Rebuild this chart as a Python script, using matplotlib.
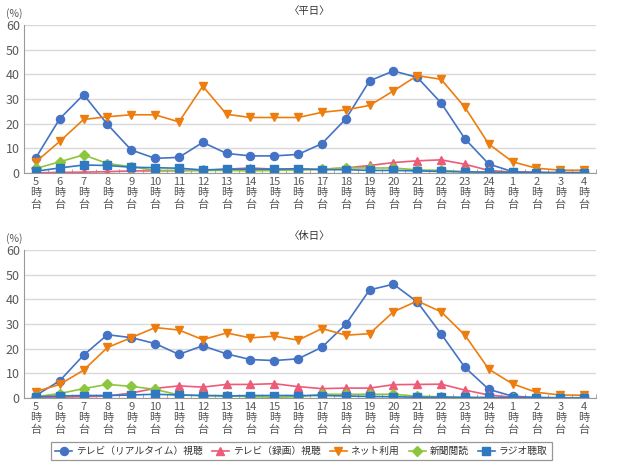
import matplotlib

matplotlib.use("Agg")
import matplotlib.pyplot as plt
from matplotlib.lines import Line2D

plt.rcParams["font.family"] = ["Noto Sans CJK JP", "DejaVu Sans"]

# ── Data ──────────────────────────────────────────────────────────────────────
HOURS = [5, 6, 7, 8, 9, 10, 11, 12, 13, 14, 15, 16, 17, 18, 19, 20, 21, 22, 23, 24, 1, 2, 3, 4]
TICK_LABELS = [f"{h}\n時\n台" for h in HOURS]

SERIES_NAMES = ["テレビ（リアルタイム）視聴", "テレビ（録画）視聴", "ネット利用", "新聞閲読", "ラジオ聴取"]

# weekday (平日)
wd_tv_live = [6.2, 22.0, 31.8, 19.7, 9.3, 5.9, 6.3, 12.4, 7.9, 6.9, 6.9, 7.5, 11.9, 21.9, 37.4, 41.4, 38.8, 28.4, 13.8, 3.6, 0.5, 0.2, 0.1, 0.1]
wd_tv_rec = [0.0, 0.2, 0.3, 0.5, 0.8, 0.8, 0.9, 1.0, 1.5, 2.0, 1.5, 1.3, 1.5, 2.0, 3.0, 4.2, 4.9, 5.3, 3.5, 1.0, 0.3, 0.1, 0.0, 0.0]
wd_net = [4.5, 12.8, 21.7, 22.8, 23.6, 23.6, 20.7, 35.2, 23.8, 22.5, 22.5, 22.5, 24.6, 25.6, 27.4, 33.3, 39.5, 38.0, 26.6, 11.7, 4.5, 1.9, 1.1, 1.1]
wd_paper = [1.8, 4.5, 7.3, 3.8, 2.5, 1.0, 1.0, 1.0, 1.0, 0.8, 1.0, 1.2, 1.5, 2.0, 2.0, 2.0, 1.2, 1.0, 0.5, 0.3, 0.1, 0.0, 0.0, 0.0]
wd_radio = [0.7, 2.0, 3.2, 3.0, 2.3, 2.1, 1.9, 1.2, 1.5, 1.5, 1.5, 1.7, 1.3, 1.3, 1.0, 1.0, 0.8, 0.6, 0.4, 0.3, 0.2, 0.1, 0.1, 0.1]

# holiday (休日)
hd_tv_live = [1.0, 7.0, 17.4, 25.7, 24.5, 22.1, 17.7, 21.2, 17.9, 15.6, 15.2, 15.9, 20.6, 29.9, 43.9, 46.2, 39.0, 26.0, 12.4, 3.5, 0.7, 0.2, 0.1, 0.1]
hd_tv_rec = [0.2, 0.3, 0.5, 0.8, 2.0, 3.9, 4.9, 4.4, 5.5, 5.5, 5.8, 4.6, 3.8, 4.0, 4.0, 5.4, 5.5, 5.6, 3.2, 1.2, 0.3, 0.0, 0.0, 0.0]
hd_net = [2.6, 5.5, 11.3, 20.5, 24.5, 28.6, 27.6, 23.7, 26.4, 24.4, 25.1, 23.5, 28.2, 25.5, 26.1, 35.0, 39.4, 35.0, 25.5, 11.7, 5.7, 2.3, 1.2, 1.1]
hd_paper = [0.5, 1.8, 3.8, 5.5, 4.7, 3.5, 1.2, 1.0, 1.0, 0.5, 0.3, 0.5, 1.5, 1.5, 1.5, 1.5, 0.7, 0.5, 0.2, 0.1, 0.0, 0.0, 0.0, 0.0]
hd_radio = [0.5, 0.8, 1.0, 1.0, 1.2, 1.5, 1.2, 1.0, 0.8, 1.0, 1.0, 1.0, 1.0, 0.8, 0.6, 0.5, 0.3, 0.3, 0.2, 0.2, 0.1, 0.1, 0.0, 0.0]

# ── Style ─────────────────────────────────────────────────────────────────────
STYLES = [
    dict(color="#4472C4", marker="o", ms=5.8),
    dict(color="#EE5A78", marker="^", ms=5.8),
    dict(color="#ED7D0E", marker="v", ms=6.3),
    dict(color="#8CC63E", marker="D", ms=4.8),
    dict(color="#2F78C2", marker="s", ms=5.3),
]
TEXT_C = "#595959"
AXIS_C = "#9a9a9a"


def draw_panel(ax, title, series):
    x = list(range(len(HOURS)))
    for vals, st in zip(series, STYLES):
        ax.plot(x, vals, color=st["color"], marker=st["marker"], ms=st["ms"],
                lw=1.2, mec=st["color"], mfc=st["color"])
    ax.set_xlim(-0.5, len(HOURS) - 0.5)
    ax.set_ylim(0, 60)
    ax.set_yticks(range(0, 61, 10))
    ax.set_xticks(x)
    ax.set_xticklabels(TICK_LABELS, fontsize=8, color=TEXT_C, linespacing=1.15)
    ax.set_xticks([i - 0.5 for i in range(len(HOURS) + 1)], minor=True)
    ax.tick_params(axis="x", which="major", length=0, pad=3)
    ax.tick_params(axis="x", which="minor", length=3, direction="in", color=AXIS_C)
    ax.tick_params(axis="y", length=0, labelsize=9, colors=TEXT_C, pad=3)
    ax.grid(axis="y", color="#d9d9d9", lw=1)
    ax.set_axisbelow(True)
    for s in ("top", "right"):
        ax.spines[s].set_visible(False)
    ax.spines["left"].set_color(AXIS_C)
    ax.spines["bottom"].set_color(AXIS_C)
    ax.set_title(title, fontsize=7.5, color="#333333", pad=8)
    ax.text(-0.003, 1.04, "(%)", transform=ax.transAxes, fontsize=7.5,
            color=TEXT_C, ha="right", va="bottom")


fig = plt.figure(figsize=(6.37, 4.66), dpi=100)
ax1 = fig.add_axes([0.0377, 0.629, 0.898, 0.317])
ax2 = fig.add_axes([0.0377, 0.146, 0.898, 0.317])

draw_panel(ax1, "〈平日〉", [wd_tv_live, wd_tv_rec, wd_net, wd_paper, wd_radio])
draw_panel(ax2, "〈休日〉", [hd_tv_live, hd_tv_rec, hd_net, hd_paper, hd_radio])

handles = [Line2D([], [], color=st["color"], marker=st["marker"], ms=st["ms"], lw=1.2)
           for st in STYLES]
leg = fig.legend(handles, SERIES_NAMES, loc="center", bbox_to_anchor=(0.473, 0.032),
                 ncol=5, fontsize=7, frameon=True, fancybox=False, edgecolor="#7f7f7f",
                 handlelength=1.7, columnspacing=1.0, handletextpad=0.4,
                 borderpad=0.45)
leg.get_frame().set_linewidth(0.9)
for t in leg.get_texts():
    t.set_color("#333333")

fig.savefig("out.png", dpi=100)
